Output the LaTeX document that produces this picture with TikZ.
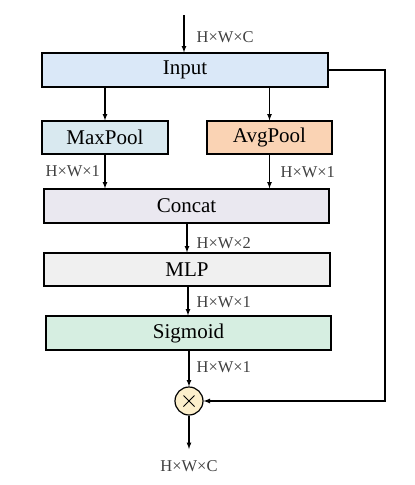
\documentclass[tikz,border=0pt]{standalone}
\usepackage{fontspec}
\setmainfont{Liberation Serif}
\usepackage{tikz}

\definecolor{inputfill}{HTML}{DAE8F8}
\definecolor{maxfill}{HTML}{D9E9F0}
\definecolor{avgfill}{HTML}{FAD3B4}
\definecolor{catfill}{HTML}{EAE8F0}
\definecolor{mlpfill}{HTML}{F0F0F0}
\definecolor{sigfill}{HTML}{D6EEE1}
\definecolor{mulfill}{HTML}{FCEFCB}
\definecolor{dimtext}{HTML}{404040}

\tikzset{
  block/.style={draw, line width=1.2pt, minimum height=34pt, inner sep=0pt,
    font=\fontsize{21}{24}\selectfont},
  dim/.style={text=dimtext, inner sep=0pt, font=\fontsize{16.5}{19}\selectfont},
}

\begin{document}
\begin{tikzpicture}[x=1pt, y=-1pt, >=latex, line width=1.2pt]
\useasboundingbox (0,0) rectangle (415,485);

\node[block, fill=inputfill, minimum width=286pt] (input) at (185,70) {Input};
\node[block, fill=maxfill, minimum width=126pt, minimum height=33pt] (maxpool) at (105,137.5) {MaxPool};
\node[block, fill=avgfill, minimum width=125pt, minimum height=33pt] (avgpool) at (269.5,137.5) {AvgPool};
\node[block, fill=catfill, minimum width=285pt] (concat) at (186.5,206) {Concat};
\node[block, fill=mlpfill, minimum width=286pt, minimum height=33pt] (mlp) at (187,269.5) {MLP};
\node[block, fill=sigfill, minimum width=285pt] (sigmoid) at (188.5,333) {Sigmoid};
\node[draw, circle, fill=mulfill, minimum size=28pt, inner sep=0pt] (mul) at (189,401) {};
\draw[line width=0.9pt] (mul.center) ++(-5.5,-5.5) -- ++(11,11);
\draw[line width=0.9pt] (mul.center) ++(5.5,-5.5) -- ++(-11,11);

\coordinate (in) at (184,15);
\coordinate (out) at (189,449);
\coordinate (loop) at (385,70);

% main path
\draw[->] (in) -- (input.north -| in);
\draw[->] (input.south -| maxpool) -- (maxpool);
\draw[->] (input.south -| avgpool) -- (avgpool);
\draw[->] (maxpool) -- (concat.north -| maxpool);
\draw[->] (avgpool) -- (concat.north -| avgpool);
\draw[->] (concat.south -| 187,0) -- (mlp.north -| 187,0);
\draw[->] (mlp.south -| 188,0) -- (sigmoid.north -| 188,0);
\draw[->] (sigmoid.south -| mul) -- (mul);
\draw[->] (mul) -- (out);

% skip connection
\draw[->] (input.east |- loop) -- (loop) -- (loop |- mul) -- (mul);

% sizes
\node[dim, anchor=west] (d0) at (196,37) {H×W×C};
\node[dim, anchor=west] (d1) at (45,171) {H×W×1};
\node[dim, anchor=west] (d2) at (280,172) {H×W×1};
\node[dim, anchor=west] (d3) at (196,243) {H×W×2};
\node[dim, anchor=west] (d4) at (196,302) {H×W×1};
\node[dim, anchor=west] (d5) at (196,367) {H×W×1};
\node[dim] (d6) at (189,466) {H×W×C};
\end{tikzpicture}
\end{document}
